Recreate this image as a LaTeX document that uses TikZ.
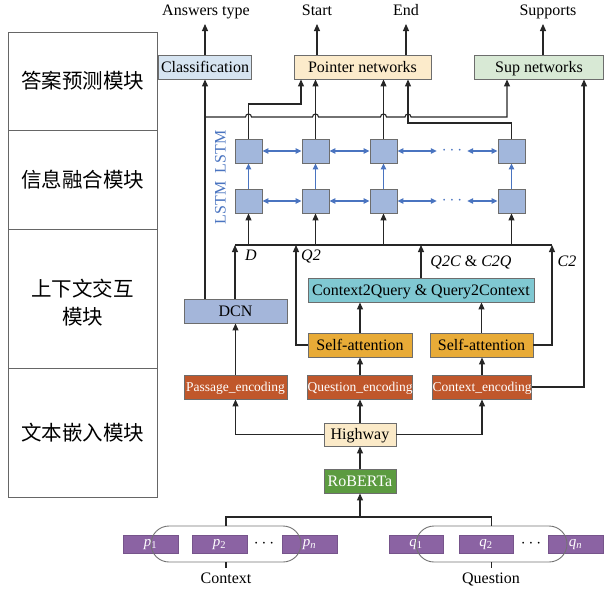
\documentclass[tikz,border=0pt]{standalone}
\usepackage{fontspec}
\setmainfont{Liberation Serif}
\newfontfamily\cjk{Noto Sans CJK SC}
\usetikzlibrary{arrows.meta,calc}
\definecolor{boxgray}{HTML}{6D6D6D}
\definecolor{clsfill}{HTML}{D6E4F1}
\definecolor{ptrfill}{HTML}{FCEBCB}
\definecolor{supfill}{HTML}{D8E9D5}
\definecolor{lstmc}{HTML}{A2B7DC}
\definecolor{dcnc}{HTML}{A4B6DA}
\definecolor{c2qc}{HTML}{80C8D2}
\definecolor{sac}{HTML}{E8AB37}
\definecolor{encc}{HTML}{C0572B}
\definecolor{hwc}{HTML}{FBEAC8}
\definecolor{robc}{HTML}{5C9B40}
\definecolor{tokc}{HTML}{8B63A3}
\definecolor{blueA}{HTML}{4A74C0}
\begin{document}
\begin{tikzpicture}[x=1pt,y=-1pt,
  box/.style={draw=boxgray, line width=0.9pt, minimum height=24pt, inner sep=0pt, text height=12.5pt, text depth=2pt, font=\fontsize{16}{18}\selectfont},
  enc/.style={box, fill=encc, text=white, text height=11pt, text depth=1.5pt, font=\fontsize{13.5}{15}\selectfont},
  cell/.style={draw=boxgray, line width=0.9pt, fill=lstmc, minimum width=27pt, minimum height=24pt, inner sep=0pt},
  tok/.style={fill=tokc, draw=tokc!85!black, line width=0.5pt, minimum width=55pt, minimum height=18pt, inner sep=0pt, text=white, text height=8pt, text depth=3pt, font=\fontsize{15}{17}\selectfont},
  grp/.style={draw=black!55, line width=0.9pt, rounded corners=18pt, minimum height=36pt, inner sep=0pt},
  arr/.style={line width=1.1pt, draw=black!85, -{Triangle[length=7pt,width=6pt]}},
  ln/.style={line width=1.1pt, draw=black!85},
  barr/.style={line width=1.1pt, draw=blueA, {Triangle[length=6pt,width=5.5pt]}-{Triangle[length=6pt,width=5.5pt]}},
  varr/.style={line width=1.1pt, draw=blueA, -{Triangle[length=6pt,width=5.5pt]}},
  lbl/.style={font=\fontsize{16}{18}\selectfont, inner sep=0pt, text height=10.5pt, text depth=3.5pt},
  ilbl/.style={lbl, font=\fontsize{16}{18}\selectfont\itshape},
  dots/.style={inner sep=0pt, font=\fontsize{17}{17}\selectfont},
  modbox/.style={draw=black!60, line width=1pt, minimum width=149pt, inner sep=0pt},
  cjklbl/.style={font=\cjk\fontsize{20.5}{28}\selectfont, align=center, inner sep=0pt}
]
\useasboundingbox (0,0) rectangle (604,589);

% left module column
\node[modbox, minimum height=98pt] (m1) at (82.5,81) {};
\node[modbox, minimum height=99pt] (m2) at (82.5,179.5) {};
\node[modbox, minimum height=139pt] (m3) at (82.5,298.5) {};
\node[modbox, minimum height=129pt] (m4) at (82.5,432.5) {};
\node[cjklbl] (t1) at (82.5,81) {答案预测模块};
\node[cjklbl] (t2) at (82.5,180) {信息融合模块};
\node[cjklbl] (t3) at (82.5,303) {上下文交互\\模块};
\node[cjklbl] (t4) at (82.5,433) {文本嵌入模块};

% top labels
\node[lbl] (ans) at (206,12.5) {Answers type};
\node[lbl] (start) at (317,12.5) {Start};
\node[lbl] (endl) at (406,12.5) {End};
\node[lbl] (supl) at (548,12.5) {Supports};
\coordinate (topY) at (0,24);
\coordinate (supx) at (543,0);

% prediction boxes
\node[box, fill=clsfill, minimum width=93pt] (cls) at (205,67) {Classification};
\node[box, fill=ptrfill, minimum width=137pt] (ptr) at (362.5,67) {Pointer networks};
\node[box, fill=supfill, minimum width=129pt] (sup) at (539,67) {Sup networks};

\draw[arr] (cls.north) -- (cls.north |- topY);
\draw[arr] (ptr.north -| start) -- (start |- topY);
\draw[arr] (ptr.north -| endl) -- (endl |- topY);
\draw[arr] (sup.north -| supx) -- (supx |- topY);

% LSTM cells
\node[cell] (a1) at (248.5,151) {};
\node[cell] (a2) at (315.5,151) {};
\node[cell] (a3) at (383.5,151) {};
\node[cell] (a4) at (511.5,151) {};
\node[cell] (b1) at (248.5,201) {};
\node[cell] (b2) at (315.5,201) {};
\node[cell] (b3) at (383.5,201) {};
\node[cell] (b4) at (511.5,201) {};
\node[dots, minimum width=30pt, text=blueA] (da) at (452,151) {$\cdots$};
\node[dots, minimum width=30pt, text=blueA] (db) at (452,201) {$\cdots$};
\node[lbl, text=blueA, rotate=90] (l1) at (222,152) {LSTM};
\node[lbl, text=blueA, rotate=90] (l2) at (222,203) {LSTM};

\draw[barr] (a1.east) -- (a2.west);
\draw[barr] (a2.east) -- (a3.west);
\draw[barr] (a3.east) -- (da.west);
\draw[barr] (da.east) -- (a4.west);
\draw[barr] (b1.east) -- (b2.west);
\draw[barr] (b2.east) -- (b3.west);
\draw[barr] (b3.east) -- (db.west);
\draw[barr] (db.east) -- (b4.west);
\draw[varr] (b1.north) -- (a1.south);
\draw[varr] (b2.north) -- (a2.south);
\draw[varr] (b3.north) -- (a3.south);
\draw[varr] (b4.north) -- (a4.south);

% context interaction boxes
\node[box, fill=dcnc, minimum width=103pt] (dcn) at (235.5,311) {DCN};
\node[box, fill=c2qc, minimum width=226pt] (c2q) at (421,290) {Context2Query \& Query2Context};
\node[box, fill=sac, minimum width=104pt] (sa1) at (360,345) {Self-attention};
\node[box, fill=sac, minimum width=103pt] (sa2) at (481.5,345) {Self-attention};

% encodings
\node[enc, minimum width=103pt] (pe) at (235.5,387) {Passage\_encoding};
\node[enc, minimum width=104pt] (qe) at (360,387) {Question\_encoding};
\node[enc, minimum width=98pt] (ce) at (482,387) {Context\_encoding};

% Highway, RoBERTa
\node[box, fill=hwc, minimum width=72pt, minimum height=23pt] (hw) at (360,434.5) {Highway};
\node[box, fill=robc, text=white, minimum width=72pt] (rob) at (360,481) {RoBERTa};

% connectors top region
\coordinate (j507) at (507,117);
\coordinate (k1) at (301,104);
\coordinate (k4) at (408,123);
\coordinate (k5) at (584,0);
\draw[arr] (dcn.north -| cls.south) -- (cls.south);
\draw[arr] (cls.south |- j507) -- (245.5,117) arc[start angle=180,end angle=360,radius=3]
  -- (312.5,117) arc[start angle=180,end angle=360,radius=3]
  -- (380.5,117) arc[start angle=180,end angle=360,radius=3]
  -- (405,117) arc[start angle=180,end angle=360,radius=3]
  -- (j507) -- (j507 |- sup.south);
\draw[arr] (a1.north) -- (a1.north |- k1) -- (k1) -- (k1 |- ptr.south);
\draw[arr] (a2.north) -- (a2.north |- ptr.south);
\draw[arr] (a3.north) -- (a3.north |- ptr.south);
\draw[arr] (a4.north) -- (a4.north |- k4) -- (k4) -- (k4 |- ptr.south);
\draw[arr] (ce.east) -- (ce.east -| k5) -- (k5 |- sup.south);

% bus at y=245
\coordinate (busL) at (235,245);
\coordinate (busR) at (552,245);
\coordinate (q2x) at (296,245);
\draw[ln] (busL) -- (busR);
\draw[arr] (dcn.north -| busL) -- (busL);
\draw[arr] (sa1.west) -- (sa1.west -| q2x) -- (q2x);
\draw[arr] (c2q.north) -- (c2q.north |- busL);
\draw[arr] (sa2.east) -- (sa2.east -| busR) -- (busR);
\draw[arr] (b1.south |- busL) -- (b1.south);
\draw[arr] (b2.south |- busL) -- (b2.south);
\draw[arr] (b3.south |- busL) -- (b3.south);
\draw[arr] (b4.south |- busL) -- (b4.south);
\node[ilbl] (dl) at (251,257) {D};
\node[ilbl] (q2l) at (311,257) {Q2};
\node[lbl] (q2cl) at (471,263) {\textit{Q2C} \& \textit{C2Q}};
\node[ilbl] (c2l) at (567,263) {C2};

% lower connectors
\draw[arr] (pe.north) -- (pe.north |- dcn.south);
\draw[arr] (qe.north) -- (sa1.south);
\draw[arr] (ce.north) -- (ce.north |- sa2.south);
\draw[arr] (sa1.north) -- (sa1.north |- c2q.south);
\draw[arr] (sa2.north) -- (sa2.north |- c2q.south);
\draw[arr] (hw.west) -- (hw.west -| pe.south) -- (pe.south);
\draw[arr] (hw.north) -- (qe.south);
\draw[arr] (hw.east) -- (hw.east -| ce.south) -- (ce.south);
\draw[arr] (rob.north) -- (hw.south);

% tokens
\node[tok] (p1) at (150.5,544) {\textit{p}\textsubscript{1}};
\node[tok] (p2) at (219.5,544) {\textit{p}\textsubscript{2}};
\node[dots] (pd) at (264,544) {$\cdots$};
\node[tok] (pn) at (309.5,544) {\textit{p}\textsubscript{\textit{n}}};
\node[tok, minimum width=54pt] (q1) at (416,544) {\textit{q}\textsubscript{1}};
\node[tok, minimum width=54pt] (q2) at (486,544) {\textit{q}\textsubscript{2}};
\node[dots] (qd) at (531,544) {$\cdots$};
\node[tok] (qn) at (575.5,544) {\textit{q}\textsubscript{\textit{n}}};
\node[grp, minimum width=150pt] (cg) at (226,544) {};
\node[grp, minimum width=151pt] (qg) at (491.5,544) {};

\coordinate (bj) at (360,517);
\coordinate (bt) at (0,568);
\draw[ln] (cg.north) -- (cg.north |- bj) -- (qg.north |- bj) -- (qg.north);
\draw[arr] (bj) -- (rob.south);
\node[lbl] (ctxl) at (226,580) {Context};
\node[lbl] (quel) at (491,580) {Question};
\draw[ln] (cg.south) -- (cg.south |- bt);
\draw[ln] (qg.south) -- (qg.south |- bt);
\end{tikzpicture}
\end{document}
